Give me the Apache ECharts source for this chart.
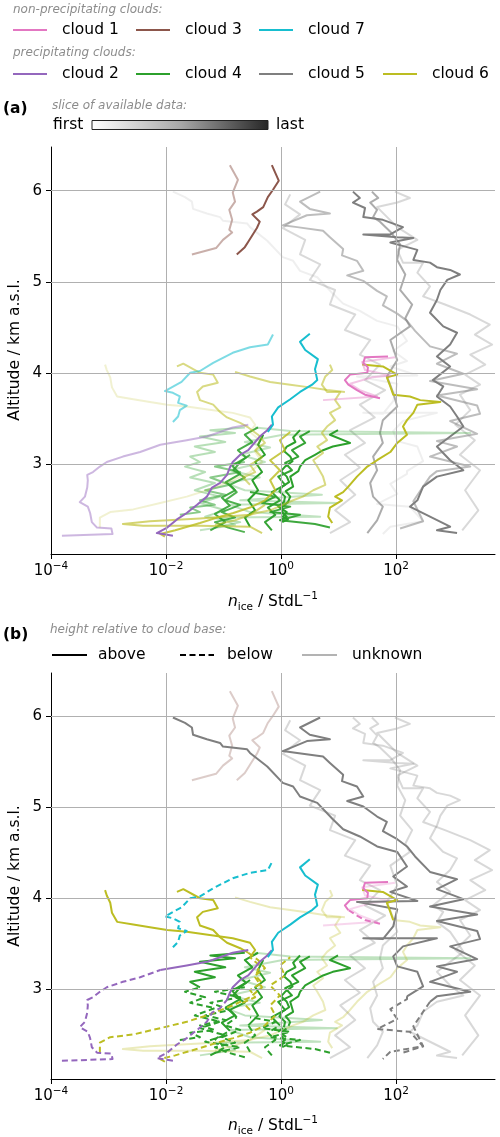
<!DOCTYPE html>
<html><head><meta charset="utf-8">
<script src="https://cdn.jsdelivr.net/npm/echarts@6/dist/echarts.min.js"></script>
<style>html,body{margin:0;padding:0;background:#fff}#c{width:500px;height:1137px}</style>
</head><body><div id="c"></div>
<script>
// ---------------- DATA: [log10(n_ice / StdL^-1), altitude km a.s.l.] ----------------
const xTickExp = [-4, -2, 0, 2];
const yTicks = [3, 4, 5, 6];
const cloudNames = ['cloud 1','cloud 2','cloud 3','cloud 4','cloud 5','cloud 6','cloud 7'];
const nonPrecip = [1, 3, 7];
const precip = [2, 4, 5, 6];

// cloud 5 (grey)
const c5_s1 = [[-1.88,5.99],[-1.67,5.93],[-1.55,5.88],[-1.53,5.80],[-1.29,5.75],[-1.06,5.71],[-1.01,5.67],[-0.59,5.64],[-0.54,5.60],[-0.24,5.45],[0.03,5.27],[0.21,5.23],[0.33,5.12],[0.63,5.05],[0.90,4.87],[1.08,4.76],[1.37,4.68],[1.67,4.57],[2.02,4.51],[2.19,4.35],[1.95,4.24],[2.19,4.13],[1.90,4.07],[2.37,3.97],[1.32,3.96],[2.02,3.88],[1.95,3.69],[1.77,3.55],[1.43,3.56],[2.71,3.56],[2.12,3.47],[1.95,3.36],[2.02,3.25],[2.37,3.19],[2.47,3.03],[2.19,2.92],[2.19,2.89],[1.90,2.78],[2.02,2.67],[1.67,2.56],[2.24,2.53],[2.47,2.37],[1.90,2.31],[1.77,2.23]];
const c5_s2 = [[0.68,5.99],[0.33,5.88],[0.50,5.80],[0.85,5.75],[0.45,5.73],[0.03,5.62],[0.28,5.60],[0.73,5.56],[0.85,5.49],[1.08,5.36],[1.06,5.29],[1.32,5.23],[1.43,5.12],[1.15,5.07],[1.43,5.01],[1.67,4.90],[1.84,4.84],[1.77,4.74],[2.02,4.65],[2.19,4.57],[2.33,4.46],[2.59,4.29],[3.06,4.21],[2.71,4.10],[3.17,3.99],[2.59,3.91],[3.41,3.82],[2.71,3.75],[3.41,3.64],[3.46,3.55],[2.94,3.47],[3.41,3.33],[2.71,3.25],[3.06,3.19],[2.59,3.08],[3.29,2.97],[2.71,2.92],[2.59,2.86],[2.47,2.75],[2.30,2.59],[2.47,2.37],[2.07,2.29]];
const c5_p3 = [[1.25,5.99],[1.37,5.92],[1.25,5.87],[1.46,5.81],[1.43,5.71],[1.77,5.68],[2.12,5.60],[1.90,5.52],[1.43,5.52],[2.02,5.49],[2.30,5.48],[1.90,5.43],[2.37,5.35],[2.30,5.24],[2.59,5.21],[2.71,5.16],[2.94,5.13],[3.11,5.08],[2.89,5.02],[2.77,4.91],[2.71,4.80],[2.59,4.66],[2.82,4.51],[3.06,4.44],[2.94,4.31],[2.71,4.18],[2.94,4.07],[2.64,3.92],[2.82,3.85],[2.71,3.74],[2.94,3.63],[3.06,3.52],[3.17,3.41],[2.94,3.30],[2.71,3.19],[2.94,3.04],[3.17,2.93],[2.71,2.86],[2.47,2.75],[2.37,2.60],[2.24,2.53],[2.59,2.42],[2.94,2.31],[2.71,2.27],[3.06,2.24]];
const c5_p4 = [[1.58,5.99],[1.69,5.92],[1.55,5.87],[1.67,5.79],[1.60,5.71],[1.72,5.66],[1.90,5.55],[2.07,5.41],[2.02,5.24],[2.16,5.08],[2.07,4.91],[2.28,4.75],[2.16,4.60],[2.24,4.51],[1.90,4.36],[2.02,4.14],[1.84,3.96],[1.95,3.78],[2.02,3.63],[1.77,3.48],[1.72,3.34],[1.77,3.23],[1.60,3.08],[1.67,2.93],[1.55,2.79],[1.60,2.64],[1.77,2.53],[1.67,2.38],[1.50,2.24]];
const c5_p5 = [[1.98,5.99],[2.24,5.92],[2.02,5.87],[1.67,5.82],[2.02,5.60],[2.37,5.46],[2.02,5.35],[2.12,5.21],[2.47,5.21],[2.37,5.10],[2.59,4.95],[2.47,4.84],[2.85,4.75],[3.29,4.64],[3.63,4.53],[3.37,4.42],[3.67,4.31],[3.29,4.20],[3.55,4.09],[3.20,3.98],[3.46,3.87],[3.11,3.76],[3.29,3.59],[3.03,3.43],[3.37,3.26],[3.11,3.10],[3.46,2.93],[3.20,2.71],[3.43,2.49],[3.15,2.27]];
const c5_p6 = [[0.16,5.96],[0.07,5.85],[0.33,5.74],[0.03,5.59],[0.42,5.46],[0.33,5.30],[0.68,5.19],[0.50,5.02],[0.94,4.91],[0.85,4.75],[1.29,4.64],[1.11,4.47],[1.55,4.36],[1.37,4.20],[1.72,4.09],[1.46,3.92],[1.81,3.81],[1.37,3.65],[1.63,3.51],[1.20,3.37],[1.46,3.23],[1.11,3.10],[1.37,2.96],[1.03,2.82],[1.29,2.66],[0.94,2.49],[1.20,2.36],[0.85,2.24]];

// cloud 4 (green)
const c4_p1 = [[0.02,2.36],[0.12,2.39],[0.03,2.42],[0.10,2.47],[-0.05,2.53],[0.05,2.58],[0.07,2.64],[-0.03,2.70],[0.02,2.75],[0.14,2.80],[0.10,2.86],[0.00,2.92],[0.07,2.97],[0.20,3.03],[0.16,3.08],[0.05,3.14],[0.10,3.19],[0.25,3.24],[0.21,3.29],[0.33,3.37]];
const c4_p2 = [[-0.02,2.38],[0.10,2.42],[0.03,2.46],[0.02,2.53],[0.12,2.58],[0.16,2.64],[0.08,2.70],[0.21,2.75],[0.16,2.86],[0.30,2.92],[0.33,2.97],[0.42,3.04],[0.59,3.10],[0.73,3.15],[0.90,3.19],[1.20,3.23],[0.85,3.32],[0.99,3.37]];
const c4_p3 = [[-0.54,2.31],[-0.63,2.41],[-0.45,2.49],[-0.57,2.60],[-0.40,2.71],[-0.50,2.82],[-0.33,2.91],[-0.45,3.02],[-0.28,3.10],[-0.40,3.21],[-0.31,3.32]];
const c4_p4 = [[-0.63,2.25],[-0.92,2.30],[-1.15,2.36],[-0.80,2.41],[-1.03,2.47],[-0.71,2.55],[-0.97,2.60],[-0.77,2.69],[-0.89,2.77],[-0.63,2.85],[-0.83,2.93],[-0.71,3.02],[-0.54,3.10]];
const c4_p5 = [[0.85,2.30],[0.59,2.34],[-0.02,2.38],[0.33,2.44],[-0.19,2.47],[0.16,2.53],[-0.33,2.57],[-0.10,2.64],[-0.54,2.69]];
const c4_p6 = [[-0.16,2.27],[-0.28,2.36],[-0.10,2.44],[-0.23,2.52],[-0.02,2.60],[-0.16,2.69],[0.07,2.77],[-0.05,2.86],[0.19,2.93],[0.07,3.01],[0.30,3.08],[0.19,3.15],[0.42,3.23],[0.33,3.30],[0.50,3.36]];
const c4_p7 = [[-1.23,2.27],[-0.97,2.36],[-1.15,2.45],[-0.89,2.54],[-1.03,2.63],[-0.80,2.71],[-0.96,2.80],[-0.71,2.89],[-0.85,2.98],[-0.61,3.07],[-0.75,3.15],[-0.50,3.24],[-0.63,3.32],[-0.40,3.40]];
const c4_f1 = [[-1.15,2.30],[-0.71,2.36],[-1.32,2.42],[-0.97,2.49],[-1.41,2.57],[-1.06,2.64],[-1.50,2.71],[-1.15,2.79],[-1.58,2.85],[-1.32,2.91],[-1.67,2.97],[-1.41,3.02],[-1.58,3.08],[-1.15,3.13],[-1.50,3.19],[-0.97,3.24],[-1.41,3.30],[-0.80,3.34],[-1.23,3.37],[-0.63,3.40]];
const c4_f2 = [[-1.41,2.27],[-0.80,2.33],[-1.06,2.41],[0.68,2.42],[-0.54,2.47],[-0.89,2.55],[0.97,2.57],[-0.71,2.60],[0.71,2.66],[-0.63,2.71],[-0.97,2.79],[-0.37,2.85],[-0.89,2.93],[-0.28,3.02],[-0.71,3.10],[-0.19,3.18],[-0.63,3.24],[0.03,3.32],[3.29,3.34],[0.16,3.36],[-0.45,3.40]];
const c4_f3 = [[-1.76,2.44],[-1.41,2.47],[-1.58,2.52],[-1.15,2.55],[-1.41,2.60],[-0.97,2.66],[-1.32,2.71],[-0.89,2.77],[-1.23,2.85],[-0.71,2.91],[-1.15,2.97],[-0.63,3.02]];

// cloud 6 (olive)
const c6_a = [[-3.15,2.30],[-3.15,2.41],[-2.97,2.47],[-2.57,2.50],[-2.10,2.57],[-1.64,2.64],[-1.29,2.71],[-0.84,2.82],[-0.54,2.91],[-0.33,3.02],[-0.45,3.13],[-0.37,3.26],[-0.54,3.35],[-0.45,3.43],[-0.54,3.51],[-0.84,3.56],[-1.18,3.59],[-1.64,3.63],[-1.98,3.65],[-2.28,3.68],[-2.57,3.71],[-2.85,3.74],[-2.94,3.84],[-2.97,3.95],[-3.03,4.03],[-3.06,4.09]];
const c6_b = [[-0.54,2.77],[-0.66,2.85],[-0.45,2.91],[-0.54,2.99],[-0.33,3.07],[-0.45,3.15],[-0.28,3.23],[-0.40,3.32],[-0.57,3.40],[-0.71,3.45],[-0.94,3.51],[-1.06,3.57],[-1.18,3.65],[-1.41,3.70],[-1.46,3.79],[-1.36,3.85],[-1.10,3.89],[-1.18,3.98],[-1.41,4.00],[-1.70,4.10],[-1.81,4.07]];
const c6_c = [[-1.15,2.33],[-0.80,2.38],[-0.54,2.44],[-0.42,2.46],[-0.19,2.49],[0.03,2.55],[0.21,2.60],[0.38,2.64],[0.56,2.71],[0.77,2.77],[0.73,2.86],[0.63,2.97],[0.56,3.04],[0.73,3.12],[0.63,3.19],[0.80,3.26],[0.71,3.34],[0.80,3.41],[0.94,3.48],[0.85,3.56],[1.03,3.62],[0.94,3.70],[1.03,3.79],[0.80,3.79],[0.71,3.87],[0.77,3.96],[0.89,4.03],[0.85,4.09]];
const c6_d = [[0.89,2.35],[0.82,2.42],[0.85,2.52],[1.06,2.60],[0.94,2.64],[1.08,2.69],[1.17,2.75],[1.32,2.86],[1.50,2.97],[1.67,3.04],[1.90,3.13],[2.02,3.23],[2.19,3.32],[2.12,3.41],[2.19,3.48],[2.30,3.56],[2.37,3.65],[2.77,3.68],[2.42,3.70],[2.24,3.74],[1.95,3.76],[1.90,3.85],[1.84,3.95],[2.02,3.98],[1.77,4.07],[1.41,4.09]];
const c6_e = [[-0.28,2.55],[-0.54,2.44],[-1.41,2.40],[-2.28,2.37],[-2.75,2.34],[-2.40,2.32],[-1.41,2.32],[-0.54,2.31],[-0.33,2.24]];
const c6_f = [[-0.80,4.01],[-0.54,3.96],[-0.19,3.90],[0.16,3.87],[0.50,3.84],[0.80,3.81],[1.11,3.79]];
const c6_g = [[-2.02,2.20],[-2.10,2.23],[-1.84,2.27],[-1.63,2.31],[-1.41,2.35],[-1.11,2.41],[-0.83,2.46],[-0.54,2.52],[-0.28,2.60],[-0.10,2.71],[-0.19,2.82],[-0.02,2.93],[-0.19,3.04],[0.07,3.15],[-0.02,3.26],[0.16,3.35]];

// cloud 2 (purple)
const c2_first = [[-3.81,2.21],[-2.93,2.23],[-2.95,2.29],[-3.20,2.30],[-3.29,2.36],[-3.32,2.46],[-3.36,2.53],[-3.50,2.58],[-3.41,2.64],[-3.37,2.74],[-3.36,2.82],[-3.37,2.88],[-3.27,2.91],[-3.15,2.97],[-3.03,3.02],[-2.75,3.08],[-2.45,3.13],[-2.10,3.21],[-1.64,3.26],[-1.29,3.30],[-1.06,3.35],[-0.84,3.40],[-0.57,3.43]];
const c2_last = [[-1.88,2.21],[-2.16,2.24],[-1.98,2.30],[-1.81,2.39],[-1.64,2.46],[-1.46,2.55],[-1.29,2.64],[-1.20,2.74],[-1.06,2.79],[-0.94,2.88],[-0.89,2.96],[-0.84,3.02],[-0.71,3.10],[-0.57,3.15],[-0.45,3.24],[-0.37,3.30],[-0.24,3.37],[-0.16,3.43]];

// cloud 1 (pink)
const c1_first = [[0.73,3.70],[1.67,3.74],[1.37,3.81],[1.20,3.88],[1.58,3.95],[1.90,3.97],[1.46,4.03],[1.41,4.12],[1.98,4.17]];
const c1_last = [[1.72,3.72],[1.46,3.76],[1.32,3.81],[1.17,3.87],[1.11,3.92],[1.20,3.98],[1.50,4.00],[1.51,4.06],[1.43,4.11],[1.46,4.17],[1.86,4.18]];

// cloud 3 (brown)
const c3_first = [[-1.55,5.30],[-1.13,5.37],[-1.01,5.46],[-0.85,5.54],[-0.90,5.57],[-0.85,5.68],[-0.90,5.79],[-0.80,5.88],[-0.84,5.98],[-0.75,6.12],[-0.89,6.28]];
const c3_last = [[-0.77,5.30],[-0.63,5.38],[-0.57,5.44],[-0.54,5.46],[-0.42,5.59],[-0.37,5.66],[-0.50,5.74],[-0.42,5.77],[-0.31,5.82],[-0.23,5.93],[-0.14,6.01],[-0.04,6.11],[-0.16,6.28]];

// cloud 7 (cyan)
const c7_first = [[-1.88,3.46],[-1.79,3.52],[-1.76,3.59],[-1.64,3.64],[-1.79,3.67],[-1.76,3.74],[-1.88,3.78],[-2.02,3.80],[-1.73,3.90],[-1.58,4.00],[-1.41,4.02],[-1.18,4.11],[-0.84,4.22],[-0.54,4.28],[-0.23,4.31],[-0.14,4.42]];
const c7_last = [[-0.23,3.35],[-0.14,3.43],[-0.16,3.52],[-0.05,3.62],[0.16,3.71],[0.33,3.79],[0.54,3.87],[0.63,3.92],[0.59,4.04],[0.64,4.15],[0.42,4.25],[0.33,4.34],[0.50,4.43]];

// profile list: [data, cloud number, slice position (0 = first, 1 = last),
//                cloud-base altitude (null = unknown), altitude below which the relation is unknown (null = none)]
const profiles = [
  [c5_s1, 5, 0.0, 2.9, null], [c5_s2, 5, 0.45, 2.85, null], [c5_p3, 5, 1.0, null, null], [c5_p4, 5, 0.6, null, null], [c5_p5, 5, 0.2, null, null], [c5_p6, 5, 0.2, null, null],
  [c4_p1, 4, 1.0, 2.62, null], [c4_p2, 4, 1.0, 2.7, null], [c4_p3, 4, 1.0, 2.7, null], [c4_p4, 4, 0.8, 2.75, null], [c4_p5, 4, 0.9, 3.4, null],
  [c4_p6, 4, 0.95, 2.65, null], [c4_p7, 4, 0.85, 2.55, null],
  [c4_f1, 4, 0.25, 3.05, null], [c4_f2, 4, 0.2, null, null], [c4_f3, 4, 0.5, 3.4, null],
  [c6_a, 6, 0.1, 3.4, null], [c6_b, 6, 0.5, 3.45, null], [c6_c, 6, 0.5, null, null], [c6_d, 6, 1.0, 3.85, 3.85], [c6_e, 6, 0.6, null, null], [c6_f, 6, 0.5, null, null], [c6_g, 6, 0.8, 3.5, null],
  [c2_first, 2, 0.4, 3.25, null], [c2_last, 2, 1.0, 2.9, null],
  [c1_first, 1, 0.35, null, null], [c1_last, 1, 1.0, 3.9, null],
  [c3_first, 3, 0.4, null, null], [c3_last, 3, 1.0, null, null],
  [c7_first, 7, 0.5, 4.5, null], [c7_last, 7, 1.0, 3.3, null]
];

// ---------------- CHART ----------------
const FONT = 'DejaVu Sans';
const COLORS = {1:'#e377c2', 2:'#9467bd', 3:'#8c564b', 4:'#2ca02c', 5:'#7f7f7f', 6:'#bcbd22', 7:'#17becf'};
const LW = 2;
function expLabel(e){ return '{b|10}{s|' + String(e).replace('-', '−') + '}'; }

const chart = echarts.init(document.getElementById('c'), null, {renderer:'canvas', width:500, height:1137});

const grids = [
  {left:51, top:147, width:444, height:407},
  {left:51, top:673, width:444, height:406}
];
const xAxes = [0,1].map(i => ({
  type:'value', gridIndex:i, min:-4, max:3.72, splitLine:{show:false},
  axisLine:{show:true, onZero:false, lineStyle:{color:'#000', width:1}},
  axisTick:{show:true, inside:false, length:5, lineStyle:{color:'#000', width:1}, customValues:xTickExp},
  axisLabel:{customValues:xTickExp, margin:7, color:'#000', fontFamily:FONT,
    formatter: v => expLabel(Math.round(v)),
    rich:{b:{fontSize:15, fontFamily:FONT, color:'#000', lineHeight:20, verticalAlign:'middle'},
          s:{fontSize:10.5, fontFamily:FONT, color:'#000', lineHeight:11, verticalAlign:'top'}}}
}));
const yAxes = [0,1].map(i => ({
  type:'value', gridIndex:i, min:2.01, max:6.48, splitLine:{show:false},
  axisLine:{show:true, onZero:false, lineStyle:{color:'#000', width:1}},
  axisTick:{show:true, inside:false, length:5, lineStyle:{color:'#000', width:1}, customValues:yTicks},
  axisLabel:{customValues:yTicks, margin:9, color:'#000', fontSize:15, fontFamily:FONT, formatter: v => String(Math.round(v))}
}));

const series = [];
[0,1].forEach(i => {
  series.push({
    type:'line', xAxisIndex:i, yAxisIndex:i, data:[], silent:true, z:1, animation:false,
    markLine:{silent:true, symbol:['none','none'], animation:false, label:{show:false},
      lineStyle:{color:'#b0b0b0', width:1, type:'solid'},
      data:[...xTickExp.filter(v => v > -4).map(v => ({xAxis:v})), ...yTicks.map(v => ({yAxis:v}))]}
  });
});

function lineSeries(grid, data, color, opacity, dashed, z){
  return {type:'line', xAxisIndex:grid, yAxisIndex:grid, data:data, showSymbol:false, symbol:'none',
    silent:true, animation:false, z:z,
    lineStyle:{color:color, width:LW, opacity:opacity, type: dashed ? [6,3.5] : 'solid', cap:'butt', join:'round'}};
}
function classOf(alt, base, unkBelow){
  if (base === null) return 'unknown';
  if (unkBelow !== null && alt < unkBelow) return 'unknown';
  return alt >= base ? 'above' : 'below';
}
function runs(pts, base, unkBelow){
  const out = []; let cur = null;
  pts.forEach(p => {
    const cls = classOf(p[1], base, unkBelow);
    if (!cur || cur.cls !== cls){
      const prev = cur ? cur.pts[cur.pts.length-1] : null;
      cur = {cls, pts: prev ? [prev] : []};
      out.push(cur);
    }
    cur.pts.push(p);
  });
  return out;
}

// panel (a): opacity by slice of available data
profiles.forEach(([pts, cloud, slice]) => {
  series.push(lineSeries(0, pts, COLORS[cloud], 0.12 + 0.88*slice, false, 2));
});
// panel (b): style by height relative to cloud base
const bRuns = [];
profiles.forEach(([pts, cloud, slice, base, unk]) => runs(pts, base, unk).forEach(r => bRuns.push([r, cloud])));
bRuns.filter(([r]) => r.cls === 'unknown').forEach(([r, cloud]) => series.push(lineSeries(1, r.pts, COLORS[cloud], 0.3, false, 2)));
bRuns.filter(([r]) => r.cls !== 'unknown').forEach(([r, cloud]) => series.push(lineSeries(1, r.pts, COLORS[cloud], 1, r.cls === 'below', 3)));

// ---------------- annotations / legends ----------------
const T = (x, y, text, extra) => Object.assign({type:'text', x:x, y:y, silent:true,
  style:Object.assign({text:text, fontFamily:FONT, fontSize:15.5, fill:'#000', verticalAlign:'middle', align:'left'}, (extra||{}))});
const HDR = {fontSize:12, fontStyle:'italic', fill:'#8c8c8c'};
const L = (x1, x2, y, color, extra) => ({type:'line', silent:true, shape:{x1:x1, y1:y, x2:x2, y2:y},
  style:Object.assign({stroke:color, lineWidth:2}, extra||{})});

const swX = [13, 136, 259, 383];
const txX = [62, 185, 308, 432];
const graphics = [];
graphics.push(T(13, 10, 'non-precipitating clouds:', HDR));
nonPrecip.forEach((c, i) => { graphics.push(L(swX[i], swX[i]+34, 30, COLORS[c])); graphics.push(T(txX[i], 30, cloudNames[c-1])); });
graphics.push(T(13, 53, 'precipitating clouds:', HDR));
precip.forEach((c, i) => { graphics.push(L(swX[i], swX[i]+34, 74, COLORS[c])); graphics.push(T(txX[i], 74, cloudNames[c-1])); });

graphics.push(T(3, 109, '(a)', {fontWeight:'bold', fontSize:15.5}));
graphics.push(T(52, 106, 'slice of available data:', HDR));
graphics.push(T(53, 125, 'first'));
graphics.push({type:'rect', silent:true, shape:{x:92, y:120.5, width:176, height:9},
  style:{fill:new echarts.graphic.LinearGradient(0,0,1,0,[{offset:0,color:'#ffffff'},{offset:0.5,color:'#a8a8a8'},{offset:1,color:'#262626'}]), stroke:'#222', lineWidth:1}});
graphics.push(T(276, 125, 'last'));

graphics.push(T(3, 635, '(b)', {fontWeight:'bold', fontSize:15.5}));
graphics.push(T(50, 630, 'height relative to cloud base:', HDR));
graphics.push(L(52, 87, 655, '#000'));
graphics.push(T(98, 655, 'above'));
graphics.push(L(180, 214, 655, '#000', {lineDash:[6,3.5]}));
graphics.push(T(227, 655, 'below'));
graphics.push(L(302, 337, 655, '#b3b3b3'));
graphics.push(T(352, 655, 'unknown'));

const xTitleRich = {i:{fontSize:15.5, fontStyle:'italic', fontFamily:FONT, lineHeight:22, verticalAlign:'middle'},
  sub:{fontSize:10.5, fontFamily:FONT, lineHeight:12, verticalAlign:'bottom'},
  t:{fontSize:15.5, fontFamily:FONT, lineHeight:22, verticalAlign:'middle'},
  sup:{fontSize:10.5, fontFamily:FONT, lineHeight:11, verticalAlign:'top'}};
[602, 1126].forEach(y => {
  graphics.push({type:'text', x:273, y:y, silent:true,
    style:{text:'{i|n}{sub|ice}{t| / StdL}{sup|−1}', rich:xTitleRich, align:'center', verticalAlign:'middle', fontFamily:FONT, fill:'#000'}});
});
[350, 876].forEach(y => {
  graphics.push({type:'text', x:15, y:y, rotation:Math.PI/2, silent:true,
    style:{text:'Altitude / km a.s.l.', fontFamily:FONT, fontSize:15.5, fill:'#000', align:'center', verticalAlign:'middle'}});
});

chart.setOption({
  animation:false,
  backgroundColor:'#fff',
  grid:grids,
  xAxis:xAxes,
  yAxis:yAxes,
  series:series,
  graphic:graphics
});
</script>
</body></html>
